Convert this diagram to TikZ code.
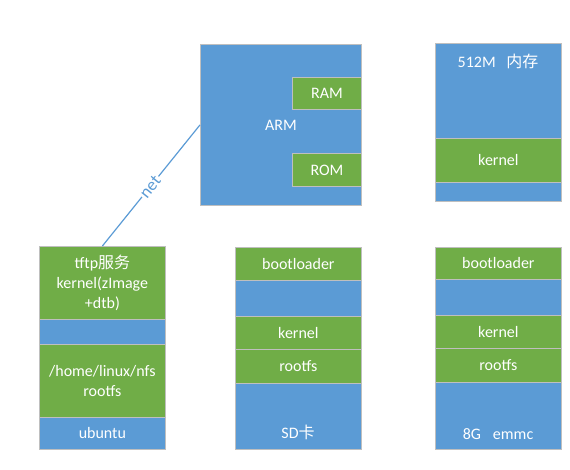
\documentclass[tikz,border=0pt]{standalone}
\usepackage{fontspec}
\setmainfont{Carlito}
\newfontfamily\cjk{Noto Sans CJK SC}
\definecolor{blu}{HTML}{5B9BD5}
\definecolor{grn}{HTML}{70AD47}
\definecolor{edge}{HTML}{BFBFBF}
\begin{document}
\begin{tikzpicture}[x=0.75pt,y=-0.75pt,
  font=\fontsize{12}{15}\selectfont,
  blk/.style={draw=edge, line width=0.6pt, inner sep=0pt, text=white, align=center, anchor=north west},
  sz/.style 2 args={minimum width=#1*0.75pt, minimum height=#2*0.75pt},
  bluebox/.style={blk, fill=blu},
  greenbox/.style={blk, fill=grn},
  lbl/.style={text=white, inner sep=0pt}]
\useasboundingbox (0,0) rectangle (570,469);

% ARM
\node[bluebox, sz={161}{161}] (arm) at (200,44) {ARM};
\node[greenbox, sz={69}{32}] (ram) at (292,77) {RAM};
\node[greenbox, sz={69}{33}] (rom) at (292,153) {ROM};

% memory
\node[bluebox, sz={126}{158}] (mem) at (435,43) {};
\node[greenbox, sz={126}{44}] (memkernel) at (435,138) {kernel};
\node[lbl] (memlabel) at (498,61) {512M\hspace{8pt}{\cjk 内存}};

% ubuntu column
\node[greenbox, sz={126}{73}] (tftp) at (39,246) {tftp{\cjk 服务}\\kernel(zImage\\+dtb)};
\node[bluebox, sz={126}{25}] (ugap) at (39,319) {};
\node[greenbox, sz={126}{73}] (nfs) at (39,344) {/home/linux/nfs\\rootfs};
\node[bluebox, sz={126}{32}] (ubuntu) at (39,417) {ubuntu};

% SD column
\node[greenbox, sz={126}{33}] (sdboot) at (235,247) {bootloader};
\node[bluebox, sz={126}{36}] (sdgap) at (235,280) {};
\node[greenbox, sz={126}{33}] (sdkernel) at (235,316) {kernel};
\node[greenbox, sz={126}{34}] (sdrootfs) at (235,349) {rootfs};
\node[bluebox, sz={126}{66}] (sdrest) at (235,383) {};
\node[lbl] (sdlabel) at (298,432) {SD{\cjk 卡}};

% emmc column
\node[greenbox, sz={126}{32}] (emboot) at (435,247) {bootloader};
\node[bluebox, sz={126}{36}] (emgap) at (435,279) {};
\node[greenbox, sz={126}{33}] (emkernel) at (435,315) {kernel};
\node[greenbox, sz={126}{34}] (emrootfs) at (435,348) {rootfs};
\node[bluebox, sz={126}{67}] (emrest) at (435,382) {};
\node[lbl] (emlabel) at (498,434) {8G\hspace{9pt}emmc};

% net connector
\draw[blu, line width=0.9pt] (arm.west) -- node[sloped, fill=white, text=blu, inner sep=1pt, pos=0.51, font=\fontsize{13}{15}\selectfont] (netlbl) {net} (tftp.north);
\end{tikzpicture}
\end{document}
